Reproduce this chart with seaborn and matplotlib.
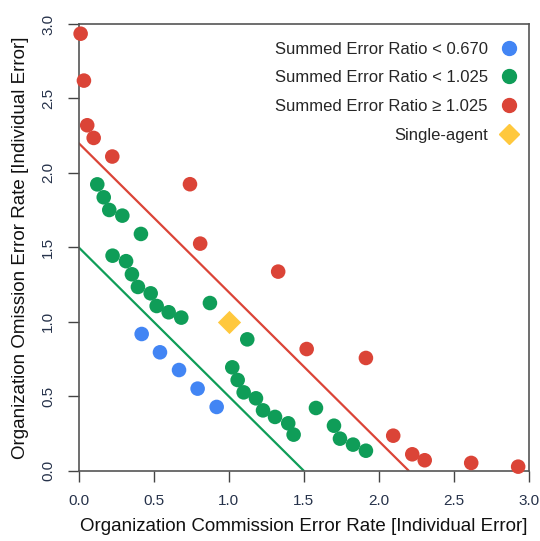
import pandas as pd
import matplotlib
matplotlib.use("Agg")
import matplotlib.pyplot as plt
import seaborn as sns
from matplotlib.lines import Line2D

# Data
blue_x = [0.42, 0.542, 0.669, 0.793, 0.92]
blue_y = [0.918, 0.795, 0.676, 0.551, 0.428]

green_x = [0.124, 0.167, 0.204, 0.291, 0.415, 0.226, 0.316, 0.355, 0.395, 0.48,
           0.52, 0.60, 0.684, 0.875, 1.124, 1.024, 1.06, 1.10, 1.182, 1.229,
           1.309, 1.397, 1.433, 1.582, 1.702, 1.742, 1.829, 1.915]
green_y = [1.923, 1.836, 1.751, 1.713, 1.59, 1.444, 1.407, 1.319, 1.234, 1.191,
           1.106, 1.064, 1.028, 1.126, 0.882, 0.694, 0.609, 0.526, 0.486, 0.405,
           0.361, 0.318, 0.242, 0.421, 0.302, 0.215, 0.175, 0.134]

red_x = [0.013, 0.035, 0.057, 0.10, 0.224, 0.742, 0.81, 1.33, 1.52, 1.915,
         2.097, 2.224, 2.307, 2.617, 2.93]
red_y = [2.935, 2.62, 2.32, 2.235, 2.11, 1.924, 1.525, 1.337, 0.817, 0.757,
         0.235, 0.11, 0.07, 0.052, 0.027]

single_x = [1.0]
single_y = [1.0]

groups = ["Summed Error Ratio < 0.670", "Summed Error Ratio < 1.025",
          "Summed Error Ratio \u2265 1.025"]
colors = ["#4285F4", "#0F9D58", "#DB4437"]
yellow = "#FFC83D"

# line intercepts (x + y = c)
green_c = 1.5
red_c = 2.2

df = pd.DataFrame({
    "x": blue_x + green_x + red_x,
    "y": blue_y + green_y + red_y,
    "group": [groups[0]] * len(blue_x) + [groups[1]] * len(green_x) + [groups[2]] * len(red_x),
})

sns.set_style("ticks")
plt.rcParams["font.family"] = ["Liberation Sans", "DejaVu Sans"]

fig = plt.figure(figsize=(5.4, 5.41), dpi=100)
ax = fig.add_axes([0.1457, 0.130, 0.8333, 0.8256])

sns.lineplot(x=[0, green_c], y=[green_c, 0], color=colors[1], linewidth=1.6, ax=ax)
sns.lineplot(x=[0, red_c], y=[red_c, 0], color=colors[2], linewidth=1.6, ax=ax)

sns.scatterplot(data=df, x="x", y="y", hue="group", palette=colors, hue_order=groups,
                s=110, linewidth=0, legend=False, clip_on=False, zorder=3, ax=ax)
sns.scatterplot(x=single_x, y=single_y, marker="D", color=yellow, s=140, linewidth=0,
                zorder=3, ax=ax)

ax.set_xlim(0, 3)
ax.set_ylim(0, 3)
ax.set_xticks([0, 0.5, 1.0, 1.5, 2.0, 2.5, 3.0])
ax.set_yticks([0, 0.5, 1.0, 1.5, 2.0, 2.5, 3.0])
ax.set_xticklabels(["0.0", "0.5", "1.0", "1.5", "2.0", "2.5", "3.0"])
ax.set_yticklabels(["0.0", "0.5", "1.0", "1.5", "2.0", "2.5", "3.0"], rotation=90, va="center")
ax.tick_params(direction="out", length=8, width=1, colors="#444444", labelcolor="#26324a",
               labelsize=11, pad=9)

for sp in ax.spines.values():
    sp.set_visible(True)
    sp.set_color("#555555")
    sp.set_linewidth(1.2)

ax.set_xlabel("Organization Commission Error Rate [Individual Error]", fontsize=13.5,
              color="#111111", labelpad=7)
ax.set_ylabel("Organization Omission Error Rate [Individual Error]", fontsize=13.5,
              color="#111111", labelpad=9)

handles = [Line2D([], [], marker="o", linestyle="", color=c, markersize=10) for c in colors]
handles.append(Line2D([], [], marker="D", linestyle="", color=yellow, markersize=10))
labels = groups + ["Single-agent"]
ax.legend(handles, labels, loc="upper right", bbox_to_anchor=(1.011, 0.998),
          frameon=False, markerfirst=False, fontsize=12, handletextpad=0.75,
          labelspacing=0.82, borderaxespad=0.6, handlelength=1.0)

fig.savefig("out.png", dpi=100)
